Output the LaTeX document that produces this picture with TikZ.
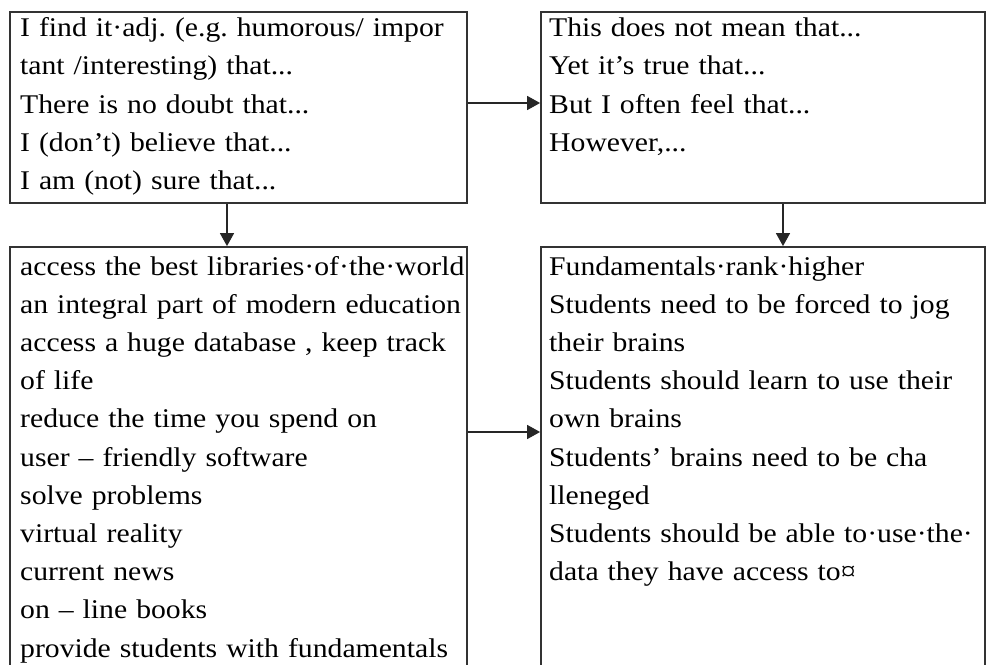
\documentclass[tikz,border=0pt]{standalone}
\usepackage{fontspec}
\setmainfont[FakeStretch=1.10]{Liberation Serif}
\usetikzlibrary{arrows.meta}
\frenchspacing
\hyphenpenalty=10000
\begin{document}
\begin{tikzpicture}[x=1pt,y=-1pt,
  box/.style={draw=black!80,line width=1.8pt,inner sep=0pt,minimum width=#1},
  txt/.style={anchor=base west,inner sep=0pt,text width=600pt,align=left,
    font=\fontsize{27}{38.2}\selectfont},
  arr/.style={draw=black!85,line width=1.5pt,-{Triangle[length=13pt,width=14pt]}}]
\useasboundingbox (0,0) rectangle (987,664);
\clip (0,0) rectangle (987,664);
\node[box=457pt,minimum height=191pt] (tl) at (238.5,107.5) {};
\node[box=444pt,minimum height=191pt] (tr) at (763,107.5) {};
\node[box=457pt,minimum height=453pt] (bl) at (238.5,473.5) {};
\node[box=444pt,minimum height=453pt] (br) at (763,473.5) {};
\node[txt] (tltext) at (20,36.7) {I find it·adj. (e.g. humorous/ impor\\
tant /interesting) that...\\
There is no doubt that...\\
I (don’t) believe that...\\
I am (not) sure that...};
\node[txt] (trtext) at (549,36.7) {This does not mean that...\\
Yet it’s true that...\\
But I often feel that...\\
However,...};
\node[txt] (bltext) at (20,275) {access the best libraries·of·the·world\\
an integral part of modern education\\
access a huge database , keep track\\
of life\\
reduce the time you spend on\\
user – friendly software\\
solve problems\\
virtual reality\\
current news\\
on – line books\\
provide students with fundamentals};
\node[txt] (brtext) at (549,275) {Fundamentals·rank·higher\\
Students need to be forced to jog\\
their brains\\
Students should learn to use their\\
own brains\\
Students’ brains need to be cha\\
lleneged\\
Students should be able to·use·the·\\
data they have access to¤};
\draw[arr] ([yshift=4.5pt]tl.east) -- ([yshift=4.5pt]tr.west);
\draw[arr] ([xshift=-11.5pt]tl.south) -- ([xshift=-11.5pt]bl.north);
\draw[arr] ([xshift=20pt]tr.south) -- ([xshift=20pt]br.north);
\draw[arr] ([yshift=41.5pt]bl.east) -- ([yshift=41.5pt]br.west);
\end{tikzpicture}
\end{document}
